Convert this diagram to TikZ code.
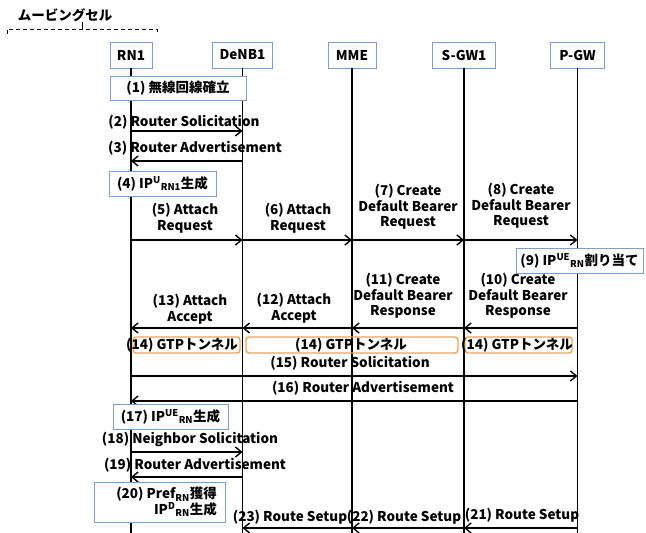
\documentclass[tikz,border=0pt]{standalone}
\usepackage{fontspec}
\setmainfont{Noto Sans CJK JP}
\usetikzlibrary{arrows.meta}
\definecolor{boxblue}{RGB}{120,158,210}
\definecolor{gtporange}{RGB}{247,160,80}
\tikzset{
  hdr/.style={draw=boxblue, line width=0.9pt, fill=white, minimum height=26pt, inner sep=0pt, font=\fontsize{13.5}{15.5}\selectfont\bfseries},
  life/.style={line width=1.6pt},
  msg/.style={line width=1.6pt, -{Straight Barb[length=6pt,width=10pt,line width=1.4pt]}},
  lbl/.style={font=\fontsize{13.5}{15.5}\selectfont\bfseries, align=center, inner sep=0pt},
  bluebox/.style={draw=boxblue, line width=0.9pt, fill=white},
  gtp/.style={draw=gtporange, line width=1.4pt, rounded corners=3pt},
}
\begin{document}
\begin{tikzpicture}[x=1pt,y=-1pt]
\useasboundingbox (0,0) rectangle (646,533);
% moving cell bracket
\node[lbl] (mc) at (65,15) {ムービングセル};
\coordinate (bl) at (7,34);
\coordinate (br) at (157,34);
\coordinate (bm) at (82,22);
\draw[dash pattern=on 4pt off 3pt, line width=0.8pt] (bl) -- (7,29) -- (157,29) -- (br);
\draw[line width=0.8pt] (bm) -- (82,29);
% headers
\node[hdr, minimum width=42pt] (rn1) at (131,55) {RN1};
\node[hdr, minimum width=60pt] (denb) at (242.5,55) {DeNB1};
\node[hdr, minimum width=48pt] (mme) at (352,55) {MME};
\node[hdr, minimum width=63pt] (sgw) at (464,55) {S-GW1};
\node[hdr, minimum width=54pt] (pgw) at (577.5,55) {P-GW};
\coordinate (bot) at (0,533);
\foreach \n in {rn1,denb,mme,sgw,pgw}{
  \draw[life] (\n.south) -- (\n.south |- bot);
}
% row coordinates
\coordinate (y2) at (0,131);
\coordinate (y3) at (0,161);
\coordinate (y5) at (0,240);
\coordinate (y10) at (0,328);
\coordinate (y15) at (0,376);
\coordinate (y16) at (0,401);
\coordinate (y18) at (0,452);
\coordinate (y19) at (0,477);
\coordinate (y21) at (0,528);
% (1)
\node[bluebox, minimum width=136pt, minimum height=24pt, lbl] (s1) at (178,88) {(1) 無線回線確立};
% (2)(3)
\draw[msg] (rn1 |- y2) -- (denb |- y2);
\node[lbl] (l2) at (184,122) {(2) Router Solicitation};
\draw[msg] (denb |- y3) -- (rn1 |- y3);
\node[lbl] (l3) at (195,148) {(3) Router Advertisement};
% (4)
\node[bluebox, minimum width=107pt, minimum height=25pt, lbl] (s4) at (162.5,183.5) {(4) IP\textsuperscript{U}\textsubscript{RN1}生成};
% (5)-(8)
\draw[msg] (rn1 |- y5) -- (denb |- y5);
\draw[msg] (denb |- y5) -- (mme |- y5);
\draw[msg] (mme |- y5) -- (sgw |- y5);
\draw[msg] (sgw |- y5) -- (pgw |- y5);
\node[lbl] (l5) at (185,218) {(5) Attach\\Request};
\node[lbl] (l6) at (298,218) {(6) Attach\\Request};
\node[lbl] (l7) at (408,207) {(7) Create\\Default Bearer\\Request};
\node[lbl] (l8) at (521,206) {(8) Create\\Default Bearer\\Request};
% (9)
\node[bluebox, minimum width=127pt, minimum height=25pt, lbl] (s9) at (579.5,260.5) {(9) IP\textsuperscript{UE}\textsubscript{RN}割り当て};
% (10)-(13)
\draw[msg] (pgw |- y10) -- (sgw |- y10);
\draw[msg] (sgw |- y10) -- (mme |- y10);
\draw[msg] (mme |- y10) -- (denb |- y10);
\draw[msg] (denb |- y10) -- (rn1 |- y10);
\node[lbl] (l10) at (518,296) {(10) Create\\Default Bearer\\Response};
\node[lbl] (l11) at (403,296) {(11) Create\\Default Bearer\\Response};
\node[lbl] (l12) at (294,308) {(12) Attach\\Accept};
\node[lbl] (l13) at (190,309) {(13) Attach\\Accept};
% (14)
\draw[gtp] (133,337) rectangle (240,353);
\draw[gtp] (246,337) rectangle (458,353);
\draw[gtp] (465,337) rectangle (572,353);
\node[lbl] (g1) at (182,345) {(14) GTPトンネル};
\node[lbl] (g2) at (351,345) {(14) GTPトンネル};
\node[lbl] (g3) at (517,345) {(14) GTPトンネル};
% (15)(16)
\draw[msg] (rn1 |- y15) -- (pgw |- y15);
\node[lbl] (l15) at (350,363) {(15) Router Solicitation};
\draw[msg] (pgw |- y16) -- (rn1 |- y16);
\node[lbl] (l16) at (363,388) {(16) Router Advertisement};
% (17)
\node[bluebox, minimum width=115pt, minimum height=25pt, lbl] (s17) at (170.5,416.5) {(17) IP\textsuperscript{UE}\textsubscript{RN}生成};
% (18)(19)
\draw[msg] (rn1 |- y18) -- (denb |- y18);
\node[lbl] (l18) at (190,439) {(18) Neighbor Solicitation};
\draw[msg] (denb |- y19) -- (rn1 |- y19);
\node[lbl] (l19) at (195,465) {(19) Router Advertisement};
% (20)
\node[bluebox, minimum width=131pt, minimum height=40pt] (s20) at (159.5,502) {};
\node[lbl, align=right, anchor=east] (l20) at (217,502) {(20) Pref\textsubscript{RN}獲得\\IP\textsuperscript{D}\textsubscript{RN}生成};
% (21)-(23)
\draw[msg] (pgw |- y21) -- (sgw |- y21);
\draw[msg] (sgw |- y21) -- (mme |- y21);
\draw[msg] (mme |- y21) -- (denb |- y21);
\node[lbl] (l21) at (522,515) {(21) Route Setup};
\node[lbl] (l22) at (404,517) {(22) Route Setup};
\node[lbl] (l23) at (290,517) {(23) Route Setup};
\end{tikzpicture}
\end{document}
